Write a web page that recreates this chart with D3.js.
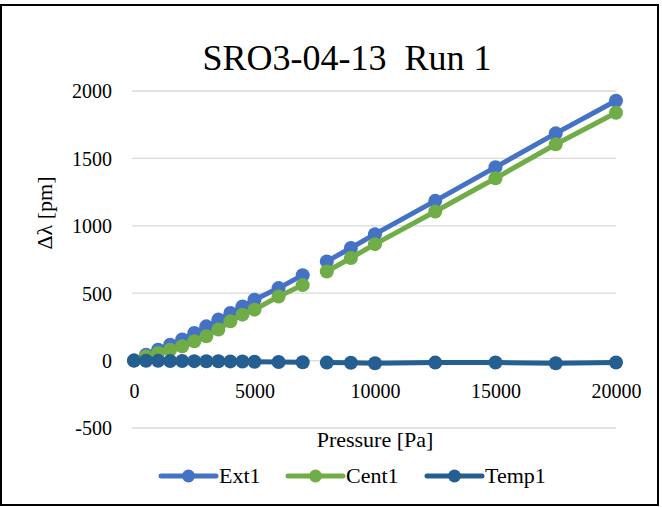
<!DOCTYPE html>
<html><head><meta charset="utf-8"><script src="https://cdn.jsdelivr.net/npm/d3@7"></script></head>
<body style="margin:0">
<svg id="s" width="662" height="507"></svg>
<script>
// Pressure steps (Pa); null marks the skipped 7500 Pa step
const pressure = [0, 500, 1000, 1500, 2000, 2500, 3000, 3500, 4000, 4500, 5000, 6000, 7000, 7500, 8000, 9000, 10000, 12500, 15000, 17500, 20000];
const ext1  = [0, 44, 81, 118, 156, 205, 254, 304, 353, 402, 452, 538, 634, null, 736, 835, 938, 1185, 1435, 1686, 1928];
const cent1 = [0, 32, 57, 81, 106, 143, 180, 230, 291, 341, 378, 476, 560, null, 661, 761, 864, 1106, 1353, 1605, 1839];
const temp1 = [0, -1, -2, -3, -3, -4, -5, -5, -6, -7, -8, -10, -12, null, -15, -16, -20, -15, -14, -20, -14];

const seriesNames  = ["Ext1", "Cent1", "Temp1"];
const seriesValues = [ext1, cent1, temp1];
const seriesColors = ["#4472C4", "#70AD47", "#255E91"];

const xTicks = [0, 5000, 10000, 15000, 20000];
const yTicks = [-500, 0, 500, 1000, 1500, 2000];

const svg = d3.select("#s");

const x = d3.scaleLinear().domain([0, 20000]).range([134, 616]);
const y = d3.scaleLinear().domain([-500, 2000]).range([428, 91]);

// outer frame
svg.append("rect")
  .attr("x", 1).attr("y", 5).attr("width", 657).attr("height", 500)
  .attr("fill", "none").attr("stroke", "#000").attr("stroke-width", 2);

// horizontal gridlines
svg.append("g")
  .selectAll("line")
  .data(yTicks)
  .join("line")
  .attr("x1", x(0) - 2).attr("x2", x(20000))
  .attr("y1", d => y(d)).attr("y2", d => y(d))
  .attr("stroke", "#D9D9D9").attr("stroke-width", 1.3);

// text in the chart's serif face
function label(sel, size) {
  return sel.style("font-family", '"Liberation Serif"').style("font-size", size + "px");
}

// y tick labels
const yAxis = d3.axisLeft(y).tickValues(yTicks).tickFormat(d => String(d)).tickSize(0).tickPadding(0);
const gy = svg.append("g").attr("transform", "translate(112,0)").call(yAxis);
gy.select(".domain").remove();
label(gy.selectAll("text"), 20).attr("fill", "#000").attr("dy", "0.34em");

// x tick labels, placed below the zero line
const xAxis = d3.axisBottom(x).tickValues(xTicks).tickFormat(d => String(d)).tickSize(0).tickPadding(0);
const gx = svg.append("g").attr("transform", "translate(0," + (y(0) + 37) + ")").call(xAxis);
gx.select(".domain").remove();
label(gx.selectAll("text"), 20).attr("fill", "#000").attr("dy", "0");

// series lines and markers
const line = d3.line()
  .defined(d => d.v !== null)
  .x(d => x(d.p))
  .y(d => y(d.v));

seriesValues.forEach((vals, i) => {
  const pts = pressure.map((p, j) => ({ p, v: vals[j] }));
  const g = svg.append("g");
  g.append("path")
    .datum(pts)
    .attr("d", line)
    .attr("fill", "none")
    .attr("stroke", seriesColors[i])
    .attr("stroke-width", 5)
    .attr("stroke-linejoin", "round")
    .attr("stroke-linecap", "round");
  g.selectAll("circle")
    .data(pts.filter(d => d.v !== null))
    .join("circle")
    .attr("cx", d => x(d.p))
    .attr("cy", d => y(d.v))
    .attr("r", 7)
    .attr("fill", seriesColors[i]);
});

// title
label(svg.append("text"), 36)
  .attr("x", 347).attr("y", 70)
  .attr("text-anchor", "middle")
  .style("white-space", "pre")
  .text("SRO3-04-13  Run 1");

// axis titles
label(svg.append("text"), 22)
  .attr("x", 375).attr("y", 447)
  .attr("text-anchor", "middle")
  .text("Pressure [Pa]");

label(svg.append("text"), 22)
  .attr("transform", "translate(52,213) rotate(-90)")
  .attr("text-anchor", "middle")
  .text("Δλ [pm]");

// legend
const legendX = [161, 288, 427];
const legend = svg.append("g");
seriesNames.forEach((name, i) => {
  const lx = legendX[i], ly = 476;
  legend.append("line")
    .attr("x1", lx).attr("x2", lx + 55)
    .attr("y1", ly).attr("y2", ly)
    .attr("stroke", seriesColors[i]).attr("stroke-width", 5)
    .attr("stroke-linecap", "round");
  legend.append("circle")
    .attr("cx", lx + 27.5).attr("cy", ly).attr("r", 6.5)
    .attr("fill", seriesColors[i]);
  label(legend.append("text"), 22)
    .attr("x", lx + 58).attr("y", ly)
    .attr("dy", "0.34em")
    .text(name);
});
</script>
</body>
</html>
